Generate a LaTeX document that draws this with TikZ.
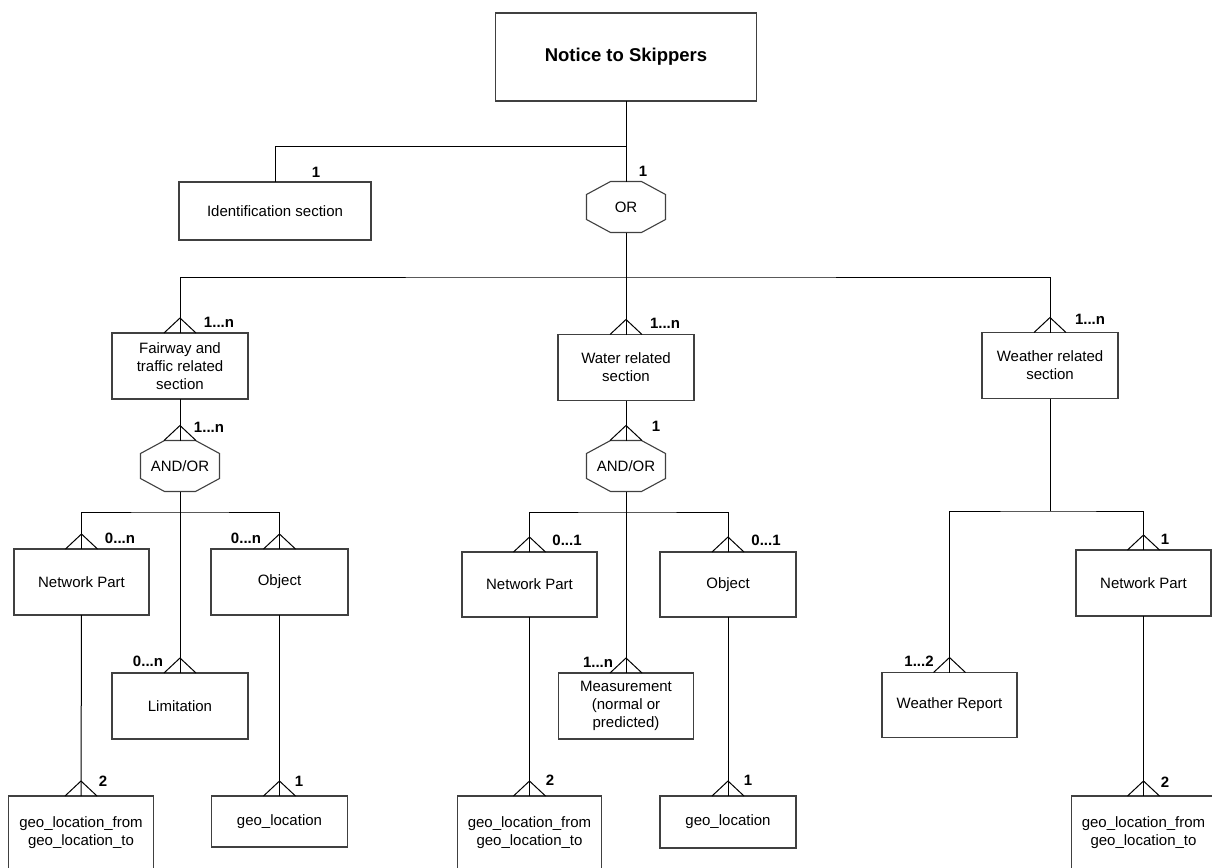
\documentclass[tikz,border=0pt]{standalone}
\usepackage{fontspec}
\setmainfont{Liberation Sans}
\usepackage{tikz}
\usetikzlibrary{calc, positioning}

% crow's foot on top of a child node
\newcommand{\crowfoot}[1]{%
  \draw[conn] ($(#1.north)+(-16,0)$) -- ($(#1.north)+(0,-15)$) -- ($(#1.north)+(16,0)$);}
% octagon outline round a gate node
\newcommand{\gateoutline}[1]{%
  \draw[boxline] ($(#1.north west)+(24,0)$) -- ($(#1.north east)+(-24,0)$)
    -- ($(#1.north east)+(0,13)$) -- ($(#1.south east)+(0,-13)$)
    -- ($(#1.south east)+(-24,0)$) -- ($(#1.south west)+(24,0)$)
    -- ($(#1.south west)+(0,-13)$) -- ($(#1.north west)+(0,13)$) -- cycle;}

\begin{document}
\begin{tikzpicture}[
    x=1pt, y=-1pt,
    boxline/.style={
        draw=black!75,
        line width=1.1pt
    },
    entity/.style={
        rectangle,
        boxline,
        fill=white,
        align=center,
        inner sep=0pt,
        outer sep=0pt,
        minimum width=136pt,
        minimum height=66pt,
        font=\fontsize{15}{18}\selectfont
    },
    gate/.style={
        rectangle,
        align=center,
        inner sep=0pt,
        outer sep=0pt,
        minimum width=79pt,
        minimum height=51pt,
        font=\fontsize{15}{18}\selectfont
    },
    card/.style={
        font=\fontsize{15}{18}\selectfont\bfseries,
        inner sep=0pt
    },
    conn/.style={
        draw=black,
        line width=1pt
    }
]
\useasboundingbox (0,0) rectangle (1212,867);
\fill[white] (0,0) rectangle (1212,867);
\clip (0,0) rectangle (1212,867);

% Top level
\node[entity, minimum width=261pt, minimum height=88pt,
      font=\fontsize{18.5}{22}\selectfont\bfseries] (notice) at (626,57) {Notice to Skippers};
\node[entity, minimum width=192pt, minimum height=58pt] (ident) at (275,211) {Identification section};
\node[gate] (orgate) at (626,207) {OR};
\gateoutline{orgate}

% Sections
\node[entity] (fairway) at (180,366) {Fairway and\\traffic related\\section};
\node[entity] (water) at (626,367.5) {Water related\\section};
\node[entity] (weather) at (1050,365.5) {Weather related\\section};

\node[gate] (andorA) at (180,466) {AND/OR};
\gateoutline{andorA}
\node[gate] (andorB) at (626,466) {AND/OR};
\gateoutline{andorB}

% Fairway branch
\node[entity, minimum width=135pt] (netA) at (81.5,582) {Network Part};
\node[entity, minimum width=137pt] (objA) at (279.5,582) {Object};
\node[entity] (limit) at (180,706) {Limitation};
\node[entity, minimum width=145pt, minimum height=74pt] (geoA) at (81,833) {geo\_location\_from\\geo\_location\_to};
\node[entity, minimum height=51pt] (geoB) at (279.5,821.5) {geo\_location};

% Water branch
\node[entity, minimum width=135pt, minimum height=65pt] (netB) at (529.5,584.5) {Network Part};
\node[entity, minimum height=65pt] (objB) at (728,584.5) {Object};
\node[entity, minimum width=135pt] (measure) at (626,706) {Measurement\\(normal or\\predicted)};
\node[entity, minimum width=144pt, minimum height=74pt] (geoC) at (529.5,833) {geo\_location\_from\\geo\_location\_to};
\node[entity, minimum height=52pt] (geoD) at (728,822) {geo\_location};

% Weather branch
\node[entity, minimum width=135pt, minimum height=65pt] (report) at (949.5,705) {Weather Report};
\node[entity, minimum width=135pt] (netC) at (1143.5,583) {Network Part};
\node[entity, minimum width=144pt, minimum height=74pt] (geoE) at (1143.5,833) {geo\_location\_from\\geo\_location\_to};

% Junctions
\coordinate (topjoin) at (626,146);
\coordinate (mainbus) at (626,277);
\coordinate (busA) at (180,512);
\coordinate (busB) at (626,512);
\coordinate (busC) at (1050,511);

% Top connectors
\draw[conn] (notice.south) -- (orgate.north);
\draw[conn] (topjoin) -| (ident.north);
\draw[conn] (orgate.south) -- (mainbus);
\draw[conn] (fairway.north) |- (mainbus) -| (weather.north);
\draw[conn] (mainbus) -- (water.north);
\crowfoot{fairway}
\crowfoot{water}
\crowfoot{weather}

% Fairway connectors
\draw[conn] (fairway.south) -- (andorA.north);
\crowfoot{andorA}
\draw[conn] (andorA.south) -- (limit.north);
\draw[conn] (netA.north) |- (busA) -| (objA.north);
\crowfoot{netA}
\crowfoot{objA}
\crowfoot{limit}
\draw[conn] (netA.south) -- (geoA.north);
\draw[conn] (objA.south) -- (objA.south |- geoB.north);
\crowfoot{geoA}
\crowfoot{geoB}

% Water connectors
\draw[conn] (water.south) -- (andorB.north);
\crowfoot{andorB}
\draw[conn] (andorB.south) -- (measure.north);
\draw[conn] (netB.north) |- (busB) -| (objB.north);
\crowfoot{netB}
\crowfoot{objB}
\crowfoot{measure}
\draw[conn] (netB.south) -- (geoC.north);
\draw[conn] (objB.south) -- (geoD.north);
\crowfoot{geoC}
\crowfoot{geoD}

% Weather connectors
\draw[conn] (weather.south) -- (busC);
\draw[conn] (report.north) |- (busC) -| (netC.north);
\crowfoot{report}
\crowfoot{netC}
\draw[conn] (netC.south) -- (netC.south |- geoE.north);
\crowfoot{geoE}

% Cardinalities
\node[card] (cIdent) at (316,172) {1};
\node[card] (cOr) at (643,171) {1};
\node[card] (cFairway) at (219,322) {1...n};
\node[card] (cWater) at (665,323) {1...n};
\node[card] (cWeather) at (1090,319) {1...n};
\node[card] (cAndorA) at (209,427) {1...n};
\node[card] (cAndorB) at (656,426) {1};
\node[card] (cNetA) at (120,538) {0...n};
\node[card] (cObjA) at (246,538) {0...n};
\node[card] (cLimit) at (148,661) {0...n};
\node[card] (cNetB) at (567,540) {0...1};
\node[card] (cObjB) at (766,540) {0...1};
\node[card] (cMeasure) at (598,662) {1...n};
\node[card] (cReport) at (919,661) {1...2};
\node[card] (cNetC) at (1165,539) {1};
\node[card] (cGeoA) at (103,781) {2};
\node[card] (cGeoB) at (299,781) {1};
\node[card] (cGeoC) at (550,780) {2};
\node[card] (cGeoD) at (748,780) {1};
\node[card] (cGeoE) at (1165,782) {2};

\end{tikzpicture}
\end{document}
